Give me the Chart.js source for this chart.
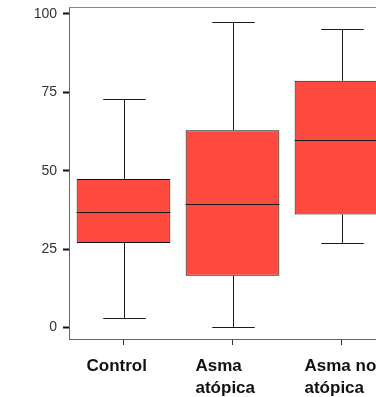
<!DOCTYPE html>
<html>
<head>
<meta charset="utf-8">
<script src="https://cdn.jsdelivr.net/npm/chart.js@4/dist/chart.umd.min.js"></script>
<style>
html,body{margin:0;padding:0;background:#fff;}
#wrap{width:376px;height:397px;overflow:hidden;position:relative;}
canvas{display:block;}
</style>
</head>
<body>
<div id="wrap"><canvas id="c" width="400" height="397" style="width:400px;height:397px"></canvas></div>
<script>
// Data
const categories = ["Control", ["Asma", "atópica"], ["Asma no", "atópica"]];
const minValues    = [3.1, 0.1, 26.9];
const q1Values     = [26.9, 16.5, 36.0];
const medianValues = [36.8, 39.5, 59.7];
const q3Values     = [47.3, 62.9, 78.7];
const maxValues    = [72.9, 97.5, 95.1];
const yTickValues  = [0, 25, 50, 75, 100];

const boxData = q1Values.map((q1, i) => [q1, q3Values[i]]);

const boxplotPlugin = {
  id: 'boxplotWhiskers',
  afterDatasetsDraw(chart) {
    const ctx = chart.ctx;
    const xs = chart.scales.x, ys = chart.scales.y;
    const meta = chart.getDatasetMeta(0);
    const catW = xs.getPixelForValue(1) - xs.getPixelForValue(0);
    const capW = catW * 0.39;
    ctx.save();
    ctx.strokeStyle = '#1a1a1a';
    ctx.lineWidth = 1;
    for (let i = 0; i < categories.length; i++) {
      const cx = Math.round(xs.getPixelForValue(i)) + 0.5;
      const bar = meta.data[i];
      const half = bar.width / 2;
      const yMin = Math.round(ys.getPixelForValue(minValues[i])) + 0.5;
      const yMax = Math.round(ys.getPixelForValue(maxValues[i])) + 0.5;
      const yQ1 = ys.getPixelForValue(q1Values[i]);
      const yQ3 = ys.getPixelForValue(q3Values[i]);
      const yMed = Math.round(ys.getPixelForValue(medianValues[i])) + 0.5;
      ctx.beginPath();
      ctx.moveTo(cx, yQ3); ctx.lineTo(cx, yMax);
      ctx.moveTo(cx - capW / 2, yMax); ctx.lineTo(cx + capW / 2, yMax);
      ctx.moveTo(cx, yQ1); ctx.lineTo(cx, yMin);
      ctx.moveTo(cx - capW / 2, yMin); ctx.lineTo(cx + capW / 2, yMin);
      ctx.moveTo(bar.x - half, yMed); ctx.lineTo(bar.x + half, yMed);
      ctx.stroke();
    }
    const a = chart.chartArea;
    ctx.strokeStyle = '#888';
    ctx.beginPath();
    ctx.moveTo(a.left, a.top + 0.5); ctx.lineTo(a.right, a.top + 0.5);
    ctx.stroke();
    ctx.restore();
  }
};

new Chart(document.getElementById('c'), {
  type: 'bar',
  data: {
    labels: categories,
    datasets: [{
      data: boxData,
      backgroundColor: '#FF4A40',
      borderColor: '#111',
      borderWidth: 1,
      borderSkipped: false,
      barPercentage: 0.86,
      categoryPercentage: 1.0
    }]
  },
  options: {
    responsive: false,
    devicePixelRatio: 1,
    animation: false,
    layout: { padding: { left: 0, right: 4, top: 7, bottom: 0 } },
    plugins: { legend: { display: false }, tooltip: { enabled: false } },
    scales: {
      x: {
        type: 'category',
        offset: true,
        grid: { display: true, drawOnChartArea: false, offset: false, tickLength: 6, tickColor: '#333', tickWidth: 1 },
        border: { display: true, color: '#666', width: 1 },
        ticks: {
          align: 'start',
          labelOffset: -37,
          padding: 11,
          color: '#111',
          maxRotation: 0,
          autoSkip: false,
          font: { family: 'Liberation Sans', size: 17, weight: 'bold', lineHeight: 1.25 }
        },
        afterFit(scale) { scale.height = 58; scale.paddingLeft = 0; scale.paddingRight = 0; }
      },
      y: {
        type: 'linear',
        min: -3.7,
        max: 102.2,
        grid: { display: true, drawOnChartArea: false, tickLength: 6, tickColor: '#111', tickWidth: 2 },
        border: { display: true, color: '#666', width: 1 },
        ticks: {
          padding: 6,
          color: '#333',
          font: { family: 'Liberation Sans', size: 14 }
        },
        afterBuildTicks(scale) { scale.ticks = yTickValues.map(v => ({ value: v })); },
        afterFit(scale) { scale.width = 69; scale.paddingTop = 0; scale.paddingBottom = 0; }
      }
    }
  },
  plugins: [boxplotPlugin]
});
</script>
</body>
</html>
